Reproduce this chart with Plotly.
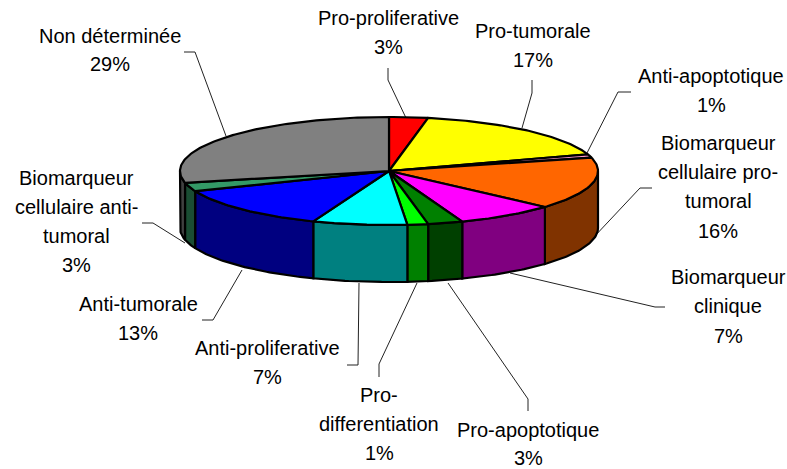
import numpy as np
import plotly.graph_objects as go

# slices clockwise from 12 o'clock
names = ["Pro-proliferative", "Pro-tumorale", "Anti-apoptotique", "Biomarqueur cellulaire pro-tumoral",
         "Biomarqueur clinique", "Pro-apoptotique", "Pro-differentiation", "Anti-proliferative",
         "Anti-tumorale", "Biomarqueur cellulaire anti-tumoral", "Non déterminée"]
shares = [3.0, 17.0, 1.0, 15.6, 7.7, 2.7, 1.6, 7.3, 13.0, 2.6, 28.5]
pct_labels = ["3%", "17%", "1%", "16%", "7%", "3%", "1%", "7%", "13%", "3%", "29%"]
top_colors = ["#ff0000", "#ffff00", "#ff99cc", "#ff6600", "#ff00ff", "#008000",
              "#00ff00", "#00ffff", "#0000ff", "#339966", "#808080"]
side_colors = ["#800000", "#808000", "#804d66", "#803300", "#800080", "#004000",
               "#008000", "#008080", "#000080", "#1a4d33", "#404040"]

# pie geometry in page pixels
cx, cy, rx, ry, depth = 389, 171, 209, 54, 57

# label lines: text lines, centre x, y of every line
label_lines = [
    (["Pro-proliferative", "3%"], 388, [18, 47]),
    (["Pro-tumorale", "17%"], 533, [31, 60]),
    (["Anti-apoptotique", "1%"], 711, [76, 105]),
    (["Biomarqueur", "cellulaire pro-", "tumoral", "16%"], 718, [143, 172, 201, 231]),
    (["Biomarqueur", "clinique", "7%"], 728, [277, 306, 336]),
    (["Pro-apoptotique", "3%"], 528, [430, 458]),
    (["Pro-", "differentiation", "1%"], 379, [395, 424, 453]),
    (["Anti-proliferative", "7%"], 267, [348, 377]),
    (["Anti-tumorale", "13%"], 138, [304, 333]),
    (["Biomarqueur", "cellulaire anti-", "tumoral", "3%"], 76, [178, 207, 236, 265]),
    (["Non déterminée", "29%"], 110, [36, 64]),
]

leaders = [
    ([406, 388, 388], [118, 80, 68]),
    ([522, 532, 532], [128, 93, 80]),
    ([587, 618, 631], [153, 92, 92]),
    ([593, 640, 652], [238, 188, 188]),
    ([510, 655, 665], [273, 307, 307]),
    ([448, 528, 528], [283, 399, 411]),
    ([417, 379, 379], [283, 364, 377]),
    ([359, 358, 347], [283, 365, 365]),
    ([242, 213, 202], [270, 320, 320]),
    ([185, 153, 142], [243, 223, 223]),
    ([226, 195, 184], [136, 52, 52]),
]

edges = np.cumsum([0] + shares) / sum(shares) * 2 * np.pi


def rim(a0, a1):
    t = np.linspace(a0, a1, max(int((a1 - a0) * 60), 2))
    return cx + rx * np.sin(t), cy - ry * np.cos(t)


fig = go.Figure()

for lx, ly in leaders:
    fig.add_trace(go.Scatter(x=lx, y=ly, mode="lines", line=dict(color="#222222", width=1), hoverinfo="skip"))

# sides, only the front half of the rim shows
for i in range(len(shares)):
    a0 = max(edges[i], np.pi / 2)
    a1 = min(edges[i + 1], 3 * np.pi / 2)
    if a1 <= a0:
        continue
    x, y = rim(a0, a1)
    fig.add_trace(go.Scatter(
        x=np.r_[x, x[::-1], x[0]], y=np.r_[y, y[::-1] + depth, y[0]],
        mode="lines", fill="toself", fillcolor=side_colors[i],
        line=dict(color="black", width=2.2), name=names[i], hoverinfo="name"))

# top face
for i in range(len(shares)):
    x, y = rim(edges[i], edges[i + 1])
    fig.add_trace(go.Scatter(
        x=np.r_[cx, x, cx], y=np.r_[cy, y, cy],
        mode="lines", fill="toself", fillcolor=top_colors[i],
        line=dict(color="black", width=2.2), name=names[i] + " " + pct_labels[i], hoverinfo="name"))

for lines, lx, ys in label_lines:
    for txt, ly in zip(lines, ys):
        fig.add_annotation(x=lx, y=ly, text=txt, showarrow=False, xanchor="center", yanchor="middle")

fig.update_layout(
    width=787, height=469, showlegend=False,
    margin=dict(l=0, r=0, t=0, b=0),
    paper_bgcolor="white", plot_bgcolor="white",
    font=dict(family="Liberation Sans, Arial, sans-serif", size=20, color="black"),
    xaxis=dict(range=[0, 787], visible=False, fixedrange=True),
    yaxis=dict(range=[469, 0], visible=False, fixedrange=True),
)

# the page's default body margin would push everything 8px in
fig.write_html("out.html", config=dict(displayModeBar=False),
               post_script="document.body.style.margin='0';document.body.style.overflow='hidden';")
